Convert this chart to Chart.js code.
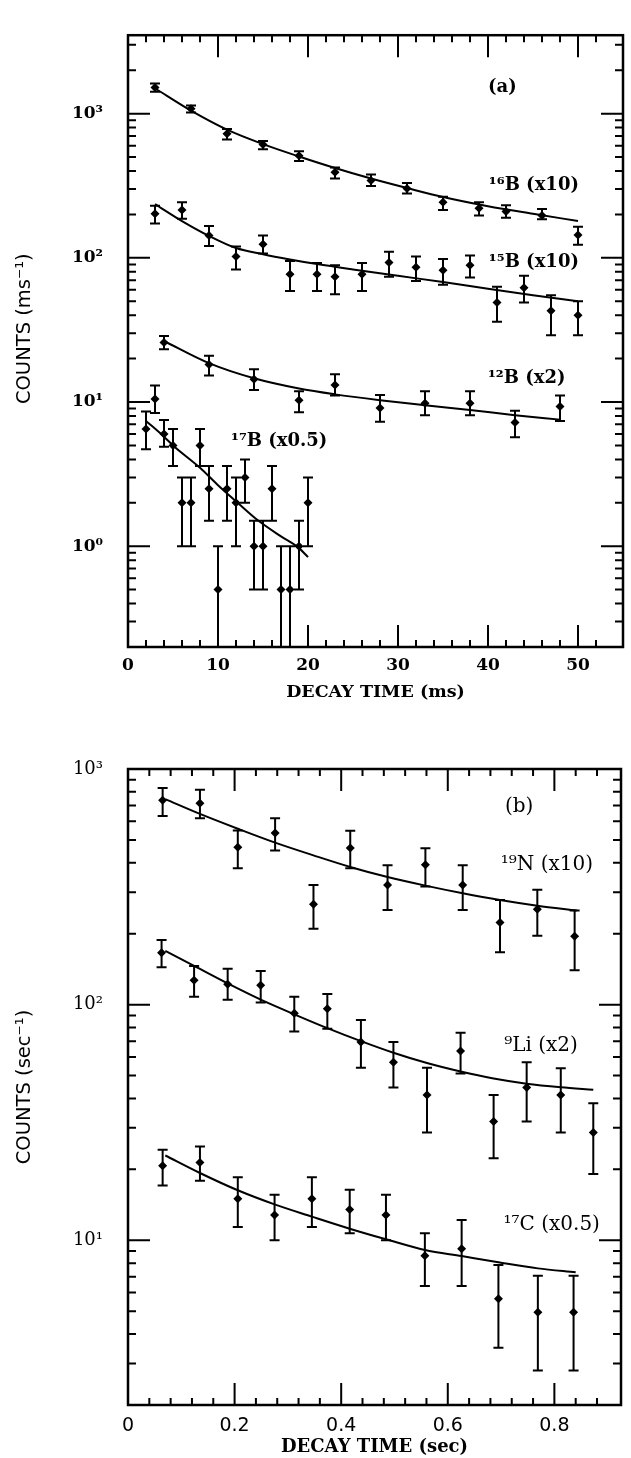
<!DOCTYPE html>
<html><head><meta charset="utf-8">
<script src="https://cdn.jsdelivr.net/npm/chart.js@4.4.1/dist/chart.umd.min.js"></script>
<style>
html,body{margin:0;padding:0;background:#fff;}
body{width:631px;height:1458px;position:relative;overflow:hidden;}
#wa{position:absolute;left:0;top:0;width:631px;height:720px;}
#wb{position:absolute;left:0;top:720px;width:631px;height:738px;}
canvas{display:block;}
</style></head><body>
<div id="wa"><canvas id="ca" width="631" height="720"></canvas></div>
<div id="wb"><canvas id="cb" width="631" height="738"></canvas></div>
<script>
// ---------- Panel (a): decay time in ms ----------
const timeB16   = [3, 7, 11, 15, 19, 23, 27, 31, 35, 39, 42, 46, 50];
const countsB16 = [1517, 1080, 724, 610, 510, 393, 344, 303, 243, 221, 210, 197, 144];
const loB16     = [1420, 1020, 662, 566, 470, 355, 315, 279, 215, 197, 190, 185, 123];
const hiB16     = [1620, 1140, 783, 645, 549, 424, 378, 331, 265, 243, 232, 218, 164];
const fitTimeB16 = [3, 7, 11, 15, 19, 23, 27, 31, 35, 40, 45, 50];
const fitB16     = [1500, 1050, 775, 615, 505, 420, 355, 305, 264, 228, 202, 180];

const timeB15   = [3, 6, 9, 12, 15, 18, 21, 23, 26, 29, 32, 35, 38, 41, 44, 47, 50];
const countsB15 = [202, 215, 143, 102, 124, 77, 77, 74, 77, 93, 86, 82, 89, 49, 62, 43, 40];
const loB15     = [173, 187, 121, 83, 107, 59, 59, 56, 59, 74, 69, 65, 73, 36, 49, 29, 29];
const hiB15     = [230, 243, 166, 120, 143, 95, 92, 89, 92, 110, 102, 98, 104, 63, 75, 55, 50];
const fitTimeB15 = [3, 6, 9, 12, 15, 18, 21, 25, 30, 35, 40, 45, 50];
const fitB15     = [236, 180, 142, 117, 106, 97.5, 90.5, 83, 75, 68, 61, 55, 50];

const timeB12   = [4, 9, 14, 19, 23, 28, 33, 38, 43, 48];
const countsB12 = [25.9, 18.2, 14.4, 10.3, 13.1, 9.1, 9.8, 9.8, 7.2, 9.3];
const loB12     = [23.2, 15.3, 12.1, 8.5, 11.1, 7.3, 8.1, 8.1, 5.7, 7.4];
const hiB12     = [28.7, 20.9, 16.9, 11.9, 15.6, 11.2, 11.9, 11.9, 8.7, 11.1];
const fitTimeB12 = [4, 9, 14, 19, 23, 28, 33, 38, 43, 48];
const fitB12     = [26.5, 18.6, 14.6, 12.4, 11.3, 10.3, 9.5, 8.8, 8.1, 7.55];

const timeB17   = [2, 3, 4, 5, 6, 7, 8, 9, 10, 11, 12, 13, 14, 15, 16, 17, 18, 19, 20];
const countsB17 = [6.5, 10.5, 6, 5, 2, 2, 5, 2.5, 0.5, 2.5, 2, 3, 1, 1, 2.5, 0.5, 0.5, 1, 2];
const loB17     = [4.7, 8.4, 4.9, 3.6, 1, 1, 3.6, 1.5, 0, 1.5, 1, 2, 0.5, 0.5, 1.5, 0, 0, 0.5, 1];
const hiB17     = [8.6, 13, 7.5, 6.5, 3, 3, 6.5, 3.6, 1, 3.6, 3, 4, 1.5, 1.5, 3.6, 1, 1, 1.5, 3];
const fitTimeB17 = [2, 4, 5, 8, 10, 12, 14.5, 17, 19, 20];
const fitB17     = [7.4, 5.75, 5.0, 3.5, 2.65, 2.05, 1.5, 1.17, 0.97, 0.84];

const xTicksA = { min: 0, max: 55, step: 2, major: 10 };
const yRangeA = { min: 0.2, max: 3500 };

// ---------- Panel (b): decay time in sec ----------
const timeN19   = [0.065, 0.135, 0.206, 0.276, 0.348, 0.417, 0.487, 0.558, 0.628, 0.698, 0.768, 0.838];
const countsN19 = [736, 716, 466, 535, 267, 462, 322, 392, 322, 223, 254, 195];
const loN19     = [632, 618, 379, 451, 210, 379, 252, 317, 252, 167, 196, 140];
const hiN19     = [830, 816, 548, 618, 322, 547, 390, 461, 390, 278, 307, 251];
const fitTimeN19 = [0.07, 0.135, 0.206, 0.276, 0.348, 0.417, 0.487, 0.558, 0.628, 0.698, 0.768, 0.842];
const fitN19     = [745, 645, 558, 487, 430, 384, 348, 320, 297, 278, 263, 251];

const timeLi9   = [0.063, 0.124, 0.187, 0.249, 0.312, 0.374, 0.437, 0.498, 0.561, 0.624, 0.686, 0.748, 0.812, 0.873];
const countsLi9 = [166, 127, 122, 121, 92, 96, 69.5, 57, 41.4, 63.5, 31.9, 44.5, 41.4, 28.7];
const loLi9     = [144, 108, 105, 102, 77, 79, 54, 44.5, 28.7, 51, 22.3, 31.9, 28.7, 19.1];
const hiLi9     = [188, 146, 142, 139, 108, 111, 86, 69.5, 54, 76, 41.4, 57, 53.7, 38.2];
const fitTimeLi9 = [0.07, 0.124, 0.187, 0.249, 0.312, 0.374, 0.437, 0.498, 0.561, 0.624, 0.686, 0.748, 0.812, 0.873];
const fitLi9     = [169, 146, 123, 105, 91, 79.5, 70, 62.5, 56.5, 52, 48.6, 46.2, 44.6, 43.5];

const timeC17   = [0.065, 0.135, 0.206, 0.275, 0.345, 0.416, 0.484, 0.557, 0.626, 0.695, 0.769, 0.836];
const countsC17 = [20.7, 21.4, 15, 12.8, 15, 13.5, 12.8, 8.6, 9.2, 5.65, 4.95, 4.95];
const loC17     = [17.1, 17.9, 11.4, 10, 11.4, 10.7, 10, 6.4, 6.4, 3.5, 2.8, 2.8];
const hiC17     = [24.2, 25, 18.5, 15.6, 18.5, 16.4, 15.6, 10.7, 12.2, 7.85, 7.07, 7.07];
const fitTimeC17 = [0.07, 0.135, 0.206, 0.275, 0.345, 0.416, 0.484, 0.557, 0.626, 0.695, 0.769, 0.84];
const fitC17     = [22.9, 19.3, 16.3, 14.2, 12.6, 11.2, 10.1, 9.1, 8.57, 8.07, 7.6, 7.31];

const xTicksB = { min: 0, max: 0.925, step: 0.04, major: 0.2 };
const yRangeB = { min: 2, max: 1000 };

// ---------- helpers ----------
const SUP = {'-':'⁻','0':'⁰','1':'¹','2':'²','3':'³','4':'⁴','5':'⁵','6':'⁶','7':'⁷','8':'⁸','9':'⁹'};
function pow10Label(v) {
  const e = Math.log10(v), r = Math.round(e);
  if (Math.abs(e - r) > 1e-6) return '';
  return '10' + String(r).split('').map(c => SUP[c]).join('');
}
const pts = (xs, ys) => xs.map((x, i) => ({ x, y: ys[i] }));
function isMult(v, s) { return Math.abs(v / s - Math.round(v / s)) < 1e-6; }

const frameTicks = {
  id: 'frameTicks',
  afterDatasetsDraw(chart, args, o) {
    const { ctx, chartArea: a, scales: { x, y } } = chart;
    ctx.save();
    ctx.strokeStyle = '#000';
    ctx.fillStyle = '#000';
    // error bars
    ctx.lineWidth = 2;
    ctx.beginPath();
    (o.errors || []).forEach(s => {
      s.xs.forEach((xv, i) => {
        const px = x.getPixelForValue(xv);
        const top = y.getPixelForValue(s.hi[i]);
        const lowClipped = s.lo[i] <= y.min;
        const bot = lowClipped ? a.bottom : y.getPixelForValue(s.lo[i]);
        ctx.moveTo(px, top); ctx.lineTo(px, bot);
        ctx.moveTo(px - 5, top); ctx.lineTo(px + 5, top);
        if (!lowClipped) { ctx.moveTo(px - 5, bot); ctx.lineTo(px + 5, bot); }
      });
    });
    ctx.stroke();
    // inward ticks on all four sides
    ctx.lineWidth = 2;
    ctx.beginPath();
    x.ticks.forEach(t => {
      const v = t.value;
      if (!isMult(v, o.xStep)) return;
      const px = x.getPixelForValue(v);
      if (px <= a.left + 1 || px >= a.right - 1) return;
      const len = isMult(v, o.xMajor) ? 22 : 7;
      ctx.moveTo(px, a.bottom); ctx.lineTo(px, a.bottom - len);
      ctx.moveTo(px, a.top); ctx.lineTo(px, a.top + len);
    });
    y.ticks.forEach(t => {
      const v = t.value;
      const p = Math.floor(Math.log10(v) + 1e-9);
      const sig = v / Math.pow(10, p);
      if (Math.abs(sig - Math.round(sig)) > 1e-6) return;
      const py = y.getPixelForValue(v);
      if (py <= a.top + 1 || py >= a.bottom - 1) return;
      const len = Math.round(sig) === 1 ? 22 : 8;
      ctx.moveTo(a.left, py); ctx.lineTo(a.left + len, py);
      ctx.moveTo(a.right, py); ctx.lineTo(a.right - len, py);
    });
    ctx.stroke();
    // frame
    ctx.lineWidth = 2.5;
    ctx.strokeRect(a.left, a.top, a.right - a.left, a.bottom - a.top);
    // annotations
    ctx.textAlign = 'center';
    ctx.textBaseline = 'middle';
    (o.labels || []).forEach(l => {
      ctx.font = l.font;
      ctx.fillText(l.text, x.getPixelForValue(l.x), y.getPixelForValue(l.y));
    });
    ctx.restore();
  }
};

function fitSet(xs, ys) {
  return { type: 'line', data: pts(xs, ys), showLine: true, borderColor: '#000', borderWidth: 2,
           pointRadius: 0, fill: false, cubicInterpolationMode: 'monotone' };
}
function ptSet(xs, ys) {
  return { type: 'scatter', data: pts(xs, ys), showLine: false, pointStyle: 'rectRot', pointRadius: 4.5,
           backgroundColor: '#000', borderColor: '#000', borderWidth: 0 };
}

function makeChart(id, cfg) {
  return new Chart(document.getElementById(id), {
    type: 'scatter',
    data: { datasets: cfg.datasets },
    options: {
      responsive: false, animation: false, devicePixelRatio: 1,
      layout: { padding: { left: 0, right: 4, top: cfg.padTop, bottom: 0 } },
      plugins: { legend: { display: false }, tooltip: { enabled: false },
                 frameTicks: { xStep: cfg.xt.step, xMajor: cfg.xt.major, errors: cfg.errors, labels: cfg.labels } },
      scales: {
        x: {
          type: 'linear', min: cfg.xt.min, max: cfg.xt.max, position: 'bottom',
          grid: { display: false, drawTicks: false }, border: { display: false },
          ticks: { stepSize: cfg.xt.step, autoSkip: false, maxRotation: 0, padding: cfg.xPad, color: '#000',
                   font: cfg.xFont, callback: cfg.xCb },
          title: { display: true, text: cfg.xTitle, color: '#000', font: cfg.titleFont, padding: { top: 0, bottom: cfg.xTitlePad } },
          afterFit: s => { s.height = cfg.xHeight; }
        },
        y: {
          type: 'logarithmic', min: cfg.yr.min, max: cfg.yr.max,
          grid: { display: false, drawTicks: false }, border: { display: false },
          ticks: { autoSkip: false, padding: 25, color: '#000', font: cfg.yFont, callback: v => pow10Label(v) },
          title: { display: true, text: cfg.yTitle, color: '#000', font: { family: 'DejaVu Sans', size: 19.5 }, padding: { top: 13, bottom: 0 } },
          afterFit: s => { s.width = 128; }
        }
      }
    },
    plugins: [frameTicks]
  });
}

makeChart('ca', {
  padTop: 12, xHeight: 73, xPad: 8, xTitlePad: 17,
  xt: xTicksA, yr: yRangeA,
  xFont: { family: 'DejaVu Serif', size: 17, weight: 'bold' },
  yFont: { family: 'DejaVu Serif', size: 17, weight: 'bold' },
  titleFont: { family: 'DejaVu Serif', size: 17.5, weight: 'bold' },
  xCb: v => isMult(v, 10) ? String(Math.round(v)) : '',
  xTitle: 'DECAY TIME (ms)', yTitle: '    COUNTS (ms⁻¹)',
  datasets: [
    fitSet(fitTimeB16, fitB16), ptSet(timeB16, countsB16),
    fitSet(fitTimeB15, fitB15), ptSet(timeB15, countsB15),
    fitSet(fitTimeB12, fitB12), ptSet(timeB12, countsB12),
    fitSet(fitTimeB17, fitB17), ptSet(timeB17, countsB17)
  ],
  errors: [
    { xs: timeB16, lo: loB16, hi: hiB16 }, { xs: timeB15, lo: loB15, hi: hiB15 },
    { xs: timeB12, lo: loB12, hi: hiB12 }, { xs: timeB17, lo: loB17, hi: hiB17 }
  ],
  labels: [
    { text: '(a)', x: 41.6, y: 1514, font: 'bold 18px "DejaVu Serif"' },
    { text: '¹⁶B (x10)', x: 45.1, y: 316, font: 'bold 18px "DejaVu Serif"' },
    { text: '¹⁵B (x10)', x: 45.1, y: 92.7, font: 'bold 18px "DejaVu Serif"' },
    { text: '¹²B (x2)', x: 44.3, y: 14.7, font: 'bold 18px "DejaVu Serif"' },
    { text: '¹⁷B (x0.5)', x: 16.8, y: 5.33, font: 'bold 18px "DejaVu Serif"' }
  ]
});

makeChart('cb', {
  padTop: 49, xHeight: 53, xPad: 10, xTitlePad: 0,
  xt: xTicksB, yr: yRangeB,
  xFont: { family: 'DejaVu Sans', size: 19 },
  yFont: { family: 'DejaVu Serif', size: 18 },
  titleFont: { family: 'DejaVu Serif', size: 18, weight: 'bold' },
  xCb: v => isMult(v, 0.2) ? (Math.abs(v) < 1e-9 ? '0' : v.toFixed(1)) : '',
  xTitle: 'DECAY TIME (sec)', yTitle: 'COUNTS (sec⁻¹)',
  datasets: [
    fitSet(fitTimeN19, fitN19), ptSet(timeN19, countsN19),
    fitSet(fitTimeLi9, fitLi9), ptSet(timeLi9, countsLi9),
    fitSet(fitTimeC17, fitC17), ptSet(timeC17, countsC17)
  ],
  errors: [
    { xs: timeN19, lo: loN19, hi: hiN19 }, { xs: timeLi9, lo: loLi9, hi: hiLi9 },
    { xs: timeC17, lo: loC17, hi: hiC17 }
  ],
  labels: [
    { text: '(b)', x: 0.734, y: 692, font: '20px "DejaVu Serif"' },
    { text: '¹⁹N (x10)', x: 0.786, y: 393, font: '20px "DejaVu Serif"' },
    { text: '⁹Li (x2)', x: 0.775, y: 67, font: '20px "DejaVu Serif"' },
    { text: '¹⁷C (x0.5)', x: 0.795, y: 11.6, font: '20px "DejaVu Serif"' }
  ]
});
</script>
</body></html>
